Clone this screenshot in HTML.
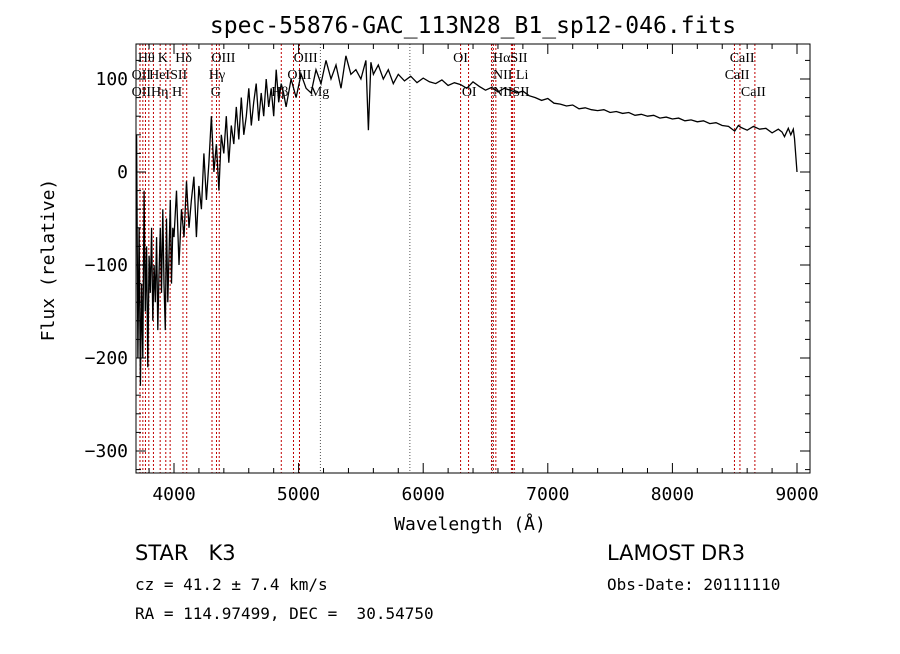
<!DOCTYPE html>
<html><head><meta charset="utf-8"><style>
body{margin:0;background:#fff;}
svg text{font-family:"DejaVu Sans Mono","Liberation Mono",monospace;}
.lbl{font-family:"Liberation Serif",serif;font-size:14px;}
</style></head><body>
<svg width="900" height="649" viewBox="0 0 900 649" xmlns="http://www.w3.org/2000/svg">
<rect width="900" height="649" fill="#fff"/>
<text x="473" y="33" font-size="23" text-anchor="middle">spec-55876-GAC_113N28_B1_sp12-046.fits</text>
<g id="lines"></g>
<g id="labels"></g>
<polyline id="spec" fill="none" stroke="#000" stroke-width="1.3"/>
<rect x="136" y="44" width="674" height="429" fill="none" stroke="#000" stroke-width="1"/>
<g id="axes"></g>
<text x="470" y="530" font-size="18" text-anchor="middle">Wavelength (Å)</text>
<text transform="translate(54,260) rotate(-90)" font-size="18" text-anchor="middle">Flux (relative)</text>
<text x="135" y="560" font-size="21" style="font-family:'DejaVu Sans',sans-serif" xml:space="preserve">STAR   K3</text>
<text x="607" y="560" font-size="21" style="font-family:'DejaVu Sans',sans-serif">LAMOST DR3</text>
<text x="135" y="590" font-size="16">cz = 41.2 ± 7.4 km/s</text>
<text x="607" y="590" font-size="16">Obs-Date: 20111110</text>
<text x="135" y="619" font-size="16" xml:space="preserve">RA = 114.97499, DEC =  30.54750</text>
</svg>
<script>
const wl=[3700,3710,3720,3730,3740,3750,3760,3770,3780,3790,3800,3810,3820,3830,3840,3850,3860,3870,3880,3890,3900,3910,3920,3930,3940,3950,3960,3970,3980,3990,4000,4020,4040,4060,4080,4100,4120,4140,4160,4180,4200,4220,4240,4260,4280,4300,4320,4340,4360,4380,4400,4420,4440,4460,4480,4500,4520,4540,4560,4580,4600,4620,4640,4660,4680,4700,4720,4740,4760,4780,4800,4820,4840,4860,4880,4900,4940,4980,5020,5060,5100,5140,5180,5220,5260,5300,5340,5380,5420,5460,5500,5540,5560,5580,5600,5640,5680,5720,5760,5800,5850,5900,5950,6000,6050,6100,6150,6200,6250,6300,6350,6400,6450,6500,6550,6600,6650,6700,6750,6800,6850,6900,6950,7000,7050,7100,7150,7200,7250,7300,7350,7400,7450,7500,7550,7600,7650,7700,7750,7800,7850,7900,7950,8000,8050,8100,8150,8200,8250,8300,8350,8400,8450,8500,8530,8550,8600,8650,8700,8750,8800,8850,8880,8900,8930,8950,8970,8980,9000,9010,9020];
const flux=[40,-200,-60,-230,-120,-200,-20,-150,-80,-210,-90,-130,-60,-160,-100,-140,-70,-170,-110,-60,-130,-40,-120,-170,-50,-140,-90,-30,-120,-60,-70,-20,-100,-40,-70,-10,-60,-30,-5,-70,-15,-40,20,-30,10,60,0,30,-20,40,20,60,10,50,30,70,35,80,40,60,90,50,75,95,55,85,60,100,70,90,60,110,75,95,85,70,100,80,105,90,85,110,95,120,100,115,90,125,105,110,100,120,45,118,105,115,100,110,95,105,98,103,96,101,97,95,99,93,96,94,90,97,92,88,91,86,90,88,85,87,82,80,77,79,74,73,71,72,68,69,67,66,67,64,65,63,64,61,62,60,61,58,59,57,58,55,56,54,55,52,53,50,49,44,50,48,45,49,46,47,42,46,43,38,47,40,46,36,0];
const tickX=[4000,5000,6000,7000,8000,9000];
const tickY=[100,0,-100,-200,-300];
const lineWl=[3727,3750,3771,3798,3835,3889,3934,3969,4072,4102,4305,4341,4363,4861,4959,5007,6300,6364,6548,6563,6583,6708,6717,6731,8498,8542,8662];
const grayWl=[5175,5893,6555];
const labelText=["Hθ","K","Hδ","OIII","OIII","OI","HαSII","CaII","OII","HeISII","Hγ","OIII","NII Li","CaII","OIIHη H","G","Hβ","Mg","OI","NIISII","CaII"];
const labelWl=[3710,3870,4010,4300,4960,6240,6560,8460,3660,3800,4280,4910,6560,8420,3660,4295,4780,5090,6310,6560,8550];
const labelRow=[0,0,0,0,0,0,0,0,1,1,1,1,1,1,2,2,2,2,2,2,2];
const NS="http://www.w3.org/2000/svg";
const X=w=>174+(w-4000)*0.1246;
const Y=f=>172-f*0.93;
const gl=document.getElementById('lines');
function mk(t,a,p){const e=document.createElementNS(NS,t);for(const k in a)e.setAttribute(k,a[k]);p.appendChild(e);return e;}
lineWl.forEach(w=>{const e=mk('line',{x1:X(w),x2:X(w),y1:44,y2:473,stroke:'#c00000','stroke-width':1,'stroke-dasharray':'2,2'},gl);

});
grayWl.forEach(w=>{const e=mk('line',{x1:X(w),x2:X(w),y1:44,y2:473,stroke:'#555','stroke-width':1,'stroke-dasharray':'1,2'},gl);

});
const lb=document.getElementById('labels');
labelText.forEach((t,i)=>{const e=mk('text',{x:X(labelWl[i]),y:62+labelRow[i]*17,class:'lbl'},lb);e.textContent=t;

});
const sp=document.getElementById('spec');
sp.setAttribute('points',wl.map((w,i)=>X(w).toFixed(1)+','+Math.max(44,Math.min(473,Y(flux[i]))).toFixed(1)).join(' '));


const ax=document.getElementById('axes');
tickX.forEach(v=>{mk('line',{x1:X(v),x2:X(v),y1:473,y2:463,stroke:'#000'},ax);mk('line',{x1:X(v),x2:X(v),y1:44,y2:54,stroke:'#000'},ax);
const t=mk('text',{x:X(v),y:500,'font-size':18,'text-anchor':'middle'},ax);t.textContent=v;

});
for(let v=3800;v<=9100;v+=200){if(v%1000){mk('line',{x1:X(v),x2:X(v),y1:473,y2:468,stroke:'#000'},ax);mk('line',{x1:X(v),x2:X(v),y1:44,y2:49,stroke:'#000'},ax);}}
tickY.forEach(v=>{mk('line',{x1:136,x2:146,y1:Y(v),y2:Y(v),stroke:'#000'},ax);mk('line',{x1:800,x2:810,y1:Y(v),y2:Y(v),stroke:'#000'},ax);
const t=mk('text',{x:128,y:Y(v)+6,'font-size':18,'text-anchor':'end'},ax);t.textContent=(v<0?'−':'')+Math.abs(v);

});
for(let v=-320;v<=130;v+=20){if(v%100){mk('line',{x1:136,x2:141,y1:Y(v),y2:Y(v),stroke:'#000'},ax);mk('line',{x1:805,x2:810,y1:Y(v),y2:Y(v),stroke:'#000'},ax);}}
</script>
</body></html>
